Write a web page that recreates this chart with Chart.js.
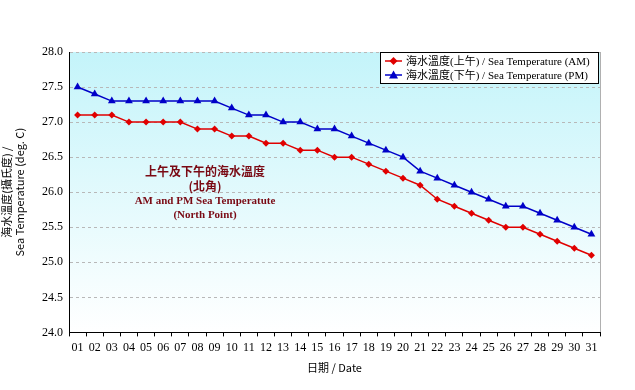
<!DOCTYPE html>
<html><head><meta charset="utf-8">
<script src="https://cdn.jsdelivr.net/npm/chart.js@4/dist/chart.umd.min.js"></script>
<style>html,body{margin:0;padding:0;background:#fff}#wrap{width:635px;height:390px}</style>
</head><body><div id="wrap"><canvas id="c" width="635" height="390"></canvas></div>
<script>
const dates = ['01','02','03','04','05','06','07','08','09','10','11','12','13','14','15','16','17','18','19','20','21','22','23','24','25','26','27','28','29','30','31'];
const amTemp = [27.1,27.1,27.1,27.0,27.0,27.0,27.0,26.9,26.9,26.8,26.8,26.7,26.7,26.6,26.6,26.5,26.5,26.4,26.3,26.2,26.1,25.9,25.8,25.7,25.6,25.5,25.5,25.4,25.3,25.2,25.1];
const pmTemp = [27.5,27.4,27.3,27.3,27.3,27.3,27.3,27.3,27.3,27.2,27.1,27.1,27.0,27.0,26.9,26.9,26.8,26.7,26.6,26.5,26.3,26.2,26.1,26.0,25.9,25.8,25.8,25.7,25.6,25.5,25.4];
const yTicks = [24.0,24.5,25.0,25.5,26.0,26.5,27.0,27.5,28.0];
const seriesNames = ['海水溫度(上午) / Sea Temperature (AM)','海水溫度(下午) / Sea Temperature (PM)'];
const noteLines = ['上午及下午的海水溫度','(北角)','AM and PM Sea Temperatute','(North Point)'];

const serif = "'Liberation Serif','DejaVu Serif','Noto Sans CJK TC',serif";

const bgPlugin = {
  id:'bg',
  beforeDraw(chart){
    const {ctx, chartArea:a} = chart;
    const g = ctx.createLinearGradient(0,a.top,0,a.bottom);
    g.addColorStop(0,'#c4f4fa');
    g.addColorStop(1,'#ffffff');
    ctx.save(); ctx.fillStyle=g; ctx.fillRect(a.left,a.top,a.right-a.left,a.bottom-a.top);
    ctx.strokeStyle='#b0b0b0'; ctx.lineWidth=1;
    ctx.beginPath(); ctx.moveTo(a.right+0.5,a.top); ctx.lineTo(a.right+0.5,a.bottom); ctx.stroke();
    ctx.restore();
  },
  afterDraw(chart){
    const {ctx, chartArea:a} = chart;
    ctx.save();
    ctx.fillStyle='#7a0a14'; ctx.textAlign='center'; ctx.textBaseline='middle';
    const cx = a.left + 136;
    ctx.font = "bold 12px 'Noto Sans CJK TC',serif";
    ctx.fillText(noteLines[0], cx, 171);
    ctx.fillText(noteLines[1], cx, 186);
    ctx.font = "bold 11px 'Liberation Serif',serif";
    ctx.fillText(noteLines[2], cx, 201);
    ctx.fillText(noteLines[3], cx, 215);
    // legend
    const lx = 380, ly = a.top, lw = a.right - lx - 2, lh = 31;
    ctx.fillStyle='#fff'; ctx.fillRect(lx,ly,lw,lh);
    ctx.strokeStyle='#000'; ctx.lineWidth=1; ctx.strokeRect(lx+0.5,ly+0.5,lw,lh);
    const cols=['#e00000','#0000c8'];
    chart.data.datasets.forEach((ds,i)=>{
      const y = ly + 9 + i*14;
      ctx.strokeStyle=cols[i]; ctx.lineWidth=1.5;
      ctx.beginPath(); ctx.moveTo(lx+5,y); ctx.lineTo(lx+22,y); ctx.stroke();
      ctx.fillStyle=cols[i];
      ctx.beginPath();
      if(i===0){ ctx.moveTo(lx+13.5,y-4); ctx.lineTo(lx+17.5,y); ctx.lineTo(lx+13.5,y+4); ctx.lineTo(lx+9.5,y); }
      else { ctx.moveTo(lx+13.5,y-4.5); ctx.lineTo(lx+18,y+3.5); ctx.lineTo(lx+9,y+3.5); }
      ctx.closePath(); ctx.fill();
      ctx.fillStyle='#000'; ctx.textAlign='left';
      ctx.font = "11px 'Liberation Serif','Noto Sans CJK TC',serif";
      ctx.fillText(ds.label, lx+26, y+1);
    });
    ctx.restore();
  }
};

new Chart(document.getElementById('c'), {
  type:'line',
  data:{
    labels:dates,
    datasets:[
      {label:seriesNames[0], data:amTemp, borderColor:'#e00000', backgroundColor:'#e00000', borderWidth:1.5, pointStyle:'rectRot', pointRadius:3.5, pointBorderWidth:0, tension:0},
      {label:seriesNames[1], data:pmTemp, borderColor:'#0000c8', backgroundColor:'#0000c8', borderWidth:1.5, pointStyle:'triangle', pointRadius:4.5, pointBorderWidth:0, tension:0}
    ]
  },
  options:{
    responsive:false, animation:false,
    layout:{padding:{left:0,right:35,top:52,bottom:0}},
    plugins:{legend:{display:false}, tooltip:{enabled:false}},
    scales:{
      x:{
        offset:true,
        grid:{display:true, drawOnChartArea:false, offset:true, color:'#000', tickLength:4},
        border:{color:'#000', width:1},
        ticks:{color:'#000', font:{family:serif, size:12}, padding:4, maxRotation:0, autoSkip:false},
        title:{display:true, text:'日期 / Date', color:'#000', font:{family:"'Noto Sans CJK TC','Liberation Serif',serif", size:11}, padding:{top:2,bottom:16}}
      },
      y:{
        min:24, max:28,
        afterFit(s){ s.width = 69; },
        afterBuildTicks(s){ s.ticks = yTicks.map(v=>({value:v})); },
        grid:{color:'#b8b8b8', lineWidth:1, drawTicks:false},
        border:{color:'#000', width:1, dash:[3,3]},
        ticks:{color:'#000', font:{family:serif, size:12}, padding:6, callback:v=>Number(v).toFixed(1)},
        title:{display:true, text:['海水溫度(攝氏度) /','Sea Temperature (deg. C)'], color:'#000', font:{family:"'Noto Sans CJK TC',sans-serif", size:11}, padding:{top:0,bottom:2}}
      }
    }
  },
  plugins:[bgPlugin]
});
</script></body></html>
